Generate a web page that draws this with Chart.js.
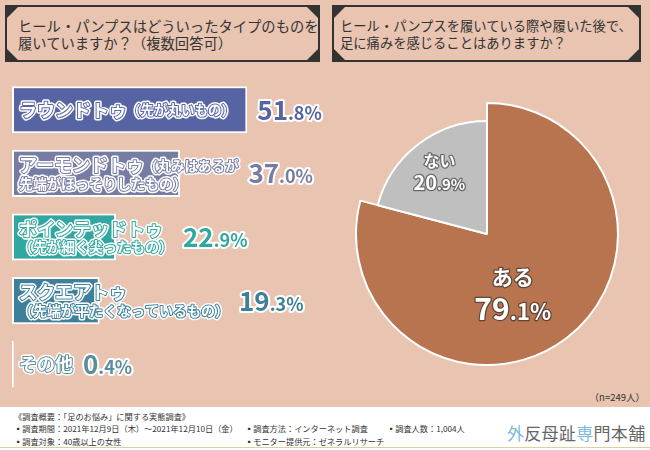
<!DOCTYPE html>
<html lang="ja">
<head>
<meta charset="utf-8">
<script src="https://cdn.jsdelivr.net/npm/chart.js@4.4.0/dist/chart.umd.min.js"></script>
<style>
  html, body { margin: 0; padding: 0; }
  body {
    width: 650px; height: 450px; position: relative; overflow: hidden;
    background: #e8c4b1; color: #333;
    font-family: "Noto Sans CJK JP", "Noto Sans", sans-serif;
  }
  .qbox { position: absolute; top: 5px; height: 57px; border: 2px solid #333; box-sizing: border-box; }
  .qbox .c { position: absolute; width: 11px; height: 11px; background: #333; }
  .c.tl { left: 0; top: 0; clip-path: polygon(0 0, 100% 0, 0 100%); }
  .c.tr { right: 0; top: 0; clip-path: polygon(0 0, 100% 0, 100% 100%); }
  .c.bl { left: 0; bottom: 0; clip-path: polygon(0 0, 0 100%, 100% 100%); }
  .c.br { right: 0; bottom: 0; clip-path: polygon(100% 0, 100% 100%, 0 100%); }
  .qbox p { margin: 0; position: absolute; top: 10px; line-height: 17px; white-space: nowrap; }
  #q1 { left: 5px; width: 315px; }
  #q1 p { left: 11px; font-size: 14.3px; }
  #q2 { left: 332px; width: 309px; }
  #q2 p { left: 6px; font-size: 13.3px; }
  canvas { position: absolute; }
  #barCanvas { left: 0; top: 78px; }
  #pieCanvas { left: 355px; top: 102px; }
  #nCount { position: absolute; right: 5px; top: 390px; font-size: 9.5px; }
  #foot { position: absolute; left: 0; top: 407px; width: 650px; height: 43px; background: #fff; }
  #foot .line { position: absolute; left: 0; top: 40px; width: 650px; height: 1px; background: #d9d0a4; }
  #foot span.t { position: absolute; font-size: 8.2px; white-space: nowrap; line-height: 10px; }
  #logo { position: absolute; left: 507px; top: 13px; font-size: 17px; color: #666; letter-spacing: 0.3px; white-space: nowrap; }
  #logo b { font-weight: normal; color: #7cb9dc; }
</style>
</head>
<body>

<div class="qbox" id="q1">
  <div class="c tl"></div><div class="c tr"></div><div class="c bl"></div><div class="c br"></div>
  <p>ヒール・パンプスはどういったタイプのものを<br>履いていますか？（複数回答可）</p>
</div>
<div class="qbox" id="q2">
  <div class="c tl"></div><div class="c tr"></div><div class="c bl"></div><div class="c br"></div>
  <p>ヒール・パンプスを履いている際や履いた後で、<br>足に痛みを感じることはありますか？</p>
</div>

<canvas id="barCanvas" width="330" height="318"></canvas>
<canvas id="pieCanvas" width="264" height="264"></canvas>

<div id="nCount">（n=249人）</div>

<div id="foot">
  <span class="t" style="left:14px; top:4px;">《調査概要：「足のお悩み」に関する実態調査》</span>
  <span class="t" style="left:14px; top:16px;">▪調査期間：2021年12月9日（木）～2021年12月10日（金）</span>
  <span class="t" style="left:14px; top:29px;">▪調査対象：40歳以上の女性</span>
  <span class="t" style="left:245px; top:16px;">▪調査方法：インターネット調査</span>
  <span class="t" style="left:245px; top:29px;">▪モニター提供元：ゼネラルリサーチ</span>
  <span class="t" style="left:387px; top:16px;">▪調査人数：1,004人</span>
  <div id="logo"><b>外</b>反母趾<b>専</b>門本舗</div>
  <div class="line"></div>
</div>

<script>
// 左：ヒール・パンプスのタイプ（複数回答）
const shoeTypes = ['ラウンドトゥ', 'アーモンドトゥ', 'ポインテッドトゥ', 'スクエアトゥ', 'その他'];
const shoeLabelLines = [
  ['ラウンドトゥ（先が丸いもの）'],
  ['アーモンドトゥ（丸みはあるが', '先端がほっそりしたもの）'],
  ['ポインテッドトゥ', '（先が細く尖ったもの）'],
  ['スクエアトゥ', '（先端が平たくなっているもの）'],
  ['その他']
];
const shoeShares = [51.8, 37.0, 22.9, 19.3, 0.4];

// 右：足の痛み
const painLabels = ['ある', 'ない'];
const painShares = [79.1, 20.9];

const FONT = '"Noto Sans CJK JP", "Noto Sans", sans-serif';
const barColors = ['#5764a3', '#777ca3', '#30a7a0', '#3e809b', '#5b8e9c'];
const pieColors = ['#b8744f', '#bfbfbf'];

function outlinedText(ctx, text, x, y, fill, inner, outerWidth, innerWidth) {
  ctx.lineJoin = 'round';
  ctx.strokeStyle = '#fff';
  ctx.lineWidth = outerWidth;
  ctx.strokeText(text, x, y);
  if (inner) {
    ctx.strokeStyle = inner;
    ctx.lineWidth = innerWidth;
    ctx.strokeText(text, x, y);
  }
  ctx.fillStyle = fill;
  ctx.fillText(text, x, y);
}

// "51.8%" -> 整数部分は大きく、".8%" は小さく
function drawPercent(ctx, value, x, y, bigSize, smallSize, fill) {
  const s = value.toFixed(1);
  const k = s.indexOf('.');
  ctx.textBaseline = 'alphabetic';
  ctx.textAlign = 'left';
  let cx = x;
  [[s.slice(0, k), bigSize], [s.slice(k) + '%', smallSize]].forEach(([t, size]) => {
    ctx.font = `bold ${size}px ${FONT}`;
    outlinedText(ctx, t, cx, y, fill, null, 4, 0);
    cx += ctx.measureText(t).width;
  });
}

function percentWidth(ctx, value, bigSize, smallSize) {
  const s = value.toFixed(1);
  const k = s.indexOf('.');
  ctx.font = `bold ${bigSize}px ${FONT}`;
  let w = ctx.measureText(s.slice(0, k)).width;
  ctx.font = `bold ${smallSize}px ${FONT}`;
  return w + ctx.measureText(s.slice(k) + '%').width;
}

const barLabels = {
  id: 'barLabels',
  afterDatasetsDraw(chart) {
    const ctx = chart.ctx;
    const bars = chart.getDatasetMeta(0).data;
    ctx.save();
    bars.forEach((bar, i) => {
      const lines = shoeLabelLines[i];
      const color = barColors[i];
      const x0 = chart.chartArea.left + 7;
      let right = x0;
      ctx.textBaseline = 'middle';
      lines.forEach((line, j) => {
        const y = lines.length === 1 ? bar.y : bar.y + (j === 0 ? -8 : 10);
        let segs;
        if (j === 0) {
          const k = line.indexOf('（');
          segs = k < 0 ? [[line, 18]] : [[line.slice(0, k), 18], [line.slice(k), 13.5]];
        } else {
          segs = [[line, 14]];
        }
        let x = x0;
        segs.forEach(([t, size]) => {
          ctx.font = `bold ${size}px ${FONT}`;
          outlinedText(ctx, t, x, y, '#fff', color, 5, 2);
          x += ctx.measureText(t).width;
        });
        right = Math.max(right, x);
      });
      const px = Math.max(right, bar.x) + 10;
      drawPercent(ctx, shoeShares[i], px, bar.y + 10, 26, 18, color);
    });
    ctx.restore();
  }
};

new Chart(document.getElementById('barCanvas'), {
  type: 'bar',
  data: {
    labels: shoeTypes,
    datasets: [{
      data: shoeShares,
      backgroundColor: barColors,
      borderColor: '#fff',
      borderWidth: 2,
      borderSkipped: false,
      barPercentage: 0.74,
      categoryPercentage: 1.0
    }]
  },
  options: {
    indexAxis: 'y',
    responsive: false,
    animation: false,
    events: [],
    layout: { padding: { left: 12, right: 0, top: 0, bottom: 0 } },
    plugins: { legend: { display: false }, tooltip: { enabled: false } },
    scales: {
      x: { display: false, min: 0, max: 70 },
      y: { display: false }
    }
  },
  plugins: [barLabels]
});

// 「ない」のスライスだけ半径を小さくする
const shrinkSlice = {
  id: 'shrinkSlice',
  afterDatasetsUpdate(chart) {
    const arcs = chart.getDatasetMeta(0).data;
    arcs[1].outerRadius = arcs[0].outerRadius * 0.863;
  }
};

const pieLabelStyle = [
  { shift: 14, dist: 0.49, name: 21, big: 30, small: 22, gap: 16, line: '#5e4638' },
  { shift: 0, dist: 0.69, name: 16, big: 20, small: 15, gap: 11, line: '#6a6a6a' }
];

const pieLabels = {
  id: 'pieLabels',
  afterDatasetsDraw(chart) {
    const ctx = chart.ctx;
    const arcs = chart.getDatasetMeta(0).data;
    ctx.save();
    ctx.lineJoin = 'round';
    arcs.forEach((arc, i) => {
      const st = pieLabelStyle[i];
      const mid = (arc.startAngle + arc.endAngle) / 2 + st.shift * Math.PI / 180;
      const cx = arc.x + Math.cos(mid) * arc.outerRadius * st.dist;
      const cy = arc.y + Math.sin(mid) * arc.outerRadius * st.dist;
      ctx.font = `bold ${st.name}px ${FONT}`;
      ctx.textAlign = 'center';
      ctx.textBaseline = 'middle';
      ctx.strokeStyle = st.line;
      ctx.lineWidth = 2.5;
      ctx.strokeText(painLabels[i], cx, cy - st.gap);
      ctx.fillStyle = '#fff';
      ctx.fillText(painLabels[i], cx, cy - st.gap);
      const w = percentWidth(ctx, painShares[i], st.big, st.small);
      const s = painShares[i].toFixed(1);
      const k = s.indexOf('.');
      ctx.textAlign = 'left';
      ctx.textBaseline = 'alphabetic';
      let x = cx - w / 2;
      const y = cy + st.gap + st.big * 0.36;
      [[s.slice(0, k), st.big], [s.slice(k) + '%', st.small]].forEach(([t, size]) => {
        ctx.font = `bold ${size}px ${FONT}`;
        ctx.strokeStyle = st.line;
        ctx.lineWidth = 2.5;
        ctx.strokeText(t, x, y);
        ctx.fillStyle = '#fff';
        ctx.fillText(t, x, y);
        x += ctx.measureText(t).width;
      });
    });
    ctx.restore();
  }
};

new Chart(document.getElementById('pieCanvas'), {
  type: 'pie',
  data: {
    labels: painLabels,
    datasets: [{
      data: painShares,
      backgroundColor: pieColors,
      borderColor: '#fff',
      borderWidth: 2
    }]
  },
  options: {
    responsive: false,
    animation: false,
    events: [],
    layout: { padding: 0 },
    plugins: { legend: { display: false }, tooltip: { enabled: false } }
  },
  plugins: [shrinkSlice, pieLabels]
});
</script>
</body>
</html>
